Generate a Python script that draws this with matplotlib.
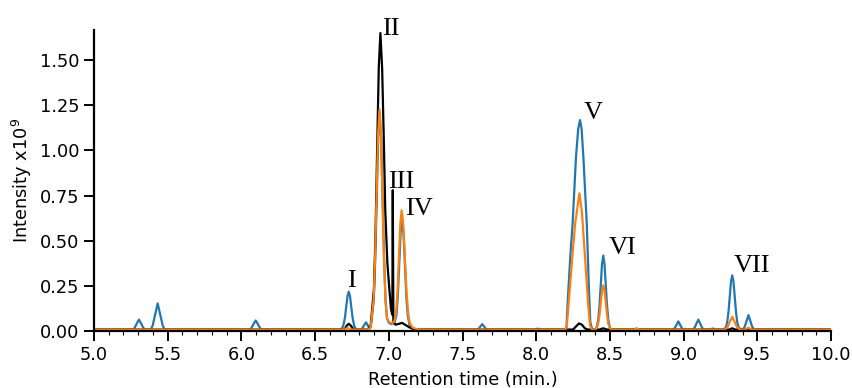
import matplotlib
matplotlib.use("Agg")
import matplotlib.pyplot as plt
from matplotlib.ticker import MultipleLocator, FormatStrFormatter

# chromatogram traces (time in min, intensity x1e9)
blue_time = [5.00,
             5.260, 5.275, 5.290, 5.305, 5.320, 5.335, 5.350,
             5.385, 5.398, 5.416, 5.432, 5.448, 5.466, 5.480,
             6.052, 6.067, 6.082, 6.097, 6.112, 6.127, 6.142,
             6.675, 6.690, 6.703, 6.711, 6.720, 6.728, 6.737, 6.745, 6.754, 6.766,
             6.780,
             6.810, 6.820, 6.833, 6.845, 6.857, 6.868,
             6.878, 6.898, 6.908, 6.918, 6.928, 6.938, 6.948, 6.958, 6.968, 6.978,
             6.988, 7.000, 7.020,
             7.040, 7.052, 7.061, 7.071, 7.080, 7.090, 7.100, 7.109, 7.119, 7.128,
             7.140, 7.160, 7.190,
             7.600, 7.612, 7.622, 7.634, 7.646, 7.656, 7.668,
             7.99, 8.01, 8.03,
             8.195, 8.205, 8.218, 8.232, 8.247, 8.270, 8.285, 8.297, 8.308, 8.320,
             8.343, 8.358, 8.367, 8.380,
             8.404, 8.4125, 8.421, 8.4295, 8.438, 8.4465, 8.455, 8.4635, 8.472,
             8.4805, 8.489, 8.4975, 8.506, 8.515,
             8.66, 8.68, 8.70,
             8.928, 8.940, 8.952, 8.964, 8.976, 8.988, 9.000,
             9.062, 9.075, 9.087, 9.100, 9.113, 9.125, 9.138,
             9.180, 9.197, 9.215,
             9.272, 9.2875, 9.296, 9.3045, 9.313, 9.3215, 9.330, 9.3385, 9.347,
             9.3555, 9.364, 9.3725, 9.390,
             9.400, 9.414, 9.427, 9.440, 9.453, 9.466, 9.480,
             10.00]
blue_int = [0.008,
            0.008, 0.016, 0.041, 0.063, 0.041, 0.016, 0.008,
            0.008, 0.030, 0.095, 0.153, 0.095, 0.030, 0.008,
            0.008, 0.015, 0.038, 0.058, 0.038, 0.015, 0.008,
            0.008, 0.025, 0.076, 0.135, 0.193, 0.218, 0.193, 0.135, 0.076, 0.025,
            0.008,
            0.008, 0.015, 0.032, 0.048, 0.032, 0.013,
            0.020, 0.170, 0.398, 0.736, 1.066, 1.208, 1.066, 0.736, 0.398, 0.170,
            0.070, 0.045, 0.038,
            0.050, 0.090, 0.190, 0.370, 0.540, 0.618, 0.540, 0.370, 0.190, 0.090,
            0.035, 0.012, 0.008,
            0.008, 0.014, 0.026, 0.038, 0.026, 0.014, 0.008,
            0.008, 0.013, 0.008,
            0.008, 0.020, 0.225, 0.420, 0.595, 0.965, 1.120, 1.168, 1.120, 0.965,
            0.595, 0.225, 0.050, 0.008,
            0.012, 0.026, 0.063, 0.141, 0.257, 0.370, 0.418, 0.370, 0.257,
            0.141, 0.063, 0.026, 0.012, 0.008,
            0.008, 0.014, 0.008,
            0.008, 0.016, 0.035, 0.053, 0.035, 0.016, 0.008,
            0.008, 0.018, 0.041, 0.063, 0.041, 0.018, 0.008,
            0.008, 0.014, 0.008,
            0.008, 0.021, 0.049, 0.105, 0.190, 0.273, 0.308, 0.273, 0.190,
            0.105, 0.049, 0.021, 0.008,
            0.008, 0.022, 0.055, 0.088, 0.055, 0.022, 0.008,
            0.008]

black_time = [5.00,
              6.700, 6.715, 6.728, 6.742, 6.760,
              6.860, 6.877, 6.899, 6.910, 6.921, 6.932, 6.943, 6.955, 6.965, 6.976,
              6.990, 7.003, 7.015, 7.024, 7.027, 7.031,
              7.045, 7.070, 7.090, 7.110, 7.140, 7.170, 7.200,
              8.250, 8.270, 8.290, 8.310, 8.330, 8.350,
              8.430, 8.455, 8.480,
              9.310, 9.330, 9.350,
              10.00]
black_int = [0.008,
             0.008, 0.030, 0.040, 0.030, 0.008,
             0.008, 0.030, 0.230, 0.540, 1.010, 1.460, 1.650, 1.450, 1.100, 0.670,
             0.380, 0.240, 0.120, 0.090, 0.780, 0.050,
             0.035, 0.040, 0.045, 0.035, 0.020, 0.010, 0.008,
             0.008, 0.025, 0.042, 0.035, 0.015, 0.008,
             0.008, 0.015, 0.008,
             0.008, 0.015, 0.008,
             0.008]

orange_time = [5.00,
               6.700, 6.720, 6.740,
               6.860, 6.877, 6.897, 6.907, 6.917, 6.927, 6.937, 6.947, 6.957,
               6.967, 6.977, 6.987, 7.000, 7.020,
               7.035, 7.045, 7.051, 7.060, 7.069, 7.078, 7.087, 7.098, 7.109,
               7.120, 7.131, 7.142, 7.160, 7.190, 7.230,
               8.195, 8.207, 8.218, 8.245, 8.265, 8.293, 8.310, 8.331, 8.354,
               8.365, 8.378,
               8.404, 8.4125, 8.421, 8.4295, 8.438, 8.4465, 8.455, 8.4635, 8.472,
               8.4805, 8.489, 8.4975, 8.506, 8.515,
               8.66, 8.68, 8.70,
               9.280, 9.298, 9.313, 9.330, 9.347, 9.362, 9.380,
               9.420, 9.440, 9.460,
               10.00]
orange_int = [0.008,
              0.008, 0.018, 0.008,
              0.008, 0.021, 0.173, 0.405, 0.749, 1.084, 1.228, 1.084, 0.749,
              0.405, 0.173, 0.075, 0.050, 0.043,
              0.050, 0.080, 0.120, 0.230, 0.410, 0.590, 0.668, 0.590, 0.410,
              0.220, 0.100, 0.045, 0.020, 0.010, 0.008,
              0.008, 0.020, 0.133, 0.410, 0.600, 0.762, 0.660, 0.410, 0.133,
              0.030, 0.008,
              0.010, 0.019, 0.041, 0.088, 0.157, 0.224, 0.253, 0.224, 0.157,
              0.088, 0.041, 0.019, 0.010, 0.008,
              0.008, 0.012, 0.008,
              0.008, 0.022, 0.050, 0.078, 0.050, 0.022, 0.008,
              0.008, 0.018, 0.008,
              0.008]

peak_labels = ["I", "II", "III", "IV", "V", "VI", "VII"]
label_x = [6.748, 7.015, 7.082, 7.203, 8.385, 8.583, 9.463]
label_y = [0.242, 1.639, 0.791, 0.641, 1.173, 0.429, 0.325]


fig = plt.figure(figsize=(8.52, 3.88), dpi=100)
ax = fig.add_axes([94 / 852, 1 - 331 / 388, 737 / 852, 301 / 388])

ax.plot(blue_time, blue_int, color="#1f77b4", lw=1.6)
ax.plot(black_time, black_int, color="black", lw=1.6)
ax.plot(orange_time, orange_int, color="#ff7f0e", lw=1.6)

for name, x, y in zip(peak_labels, label_x, label_y):
    ax.text(x, y, name, ha="center", va="baseline",
            family="Liberation Serif", fontsize=19)

ax.set_xlim(5, 10)
ax.set_ylim(0, 1.667)
ax.xaxis.set_major_locator(MultipleLocator(0.5))
ax.xaxis.set_minor_locator(MultipleLocator(0.1))
ax.xaxis.set_major_formatter(FormatStrFormatter("%.1f"))
ax.yaxis.set_major_locator(MultipleLocator(0.25))
ax.yaxis.set_major_formatter(FormatStrFormatter("%.2f"))

for side in ["top", "right"]:
    ax.spines[side].set_visible(False)
for side in ["left", "bottom"]:
    ax.spines[side].set_linewidth(1.6)

ax.tick_params(which="major", direction="out", length=7, width=1.4,
               labelsize=12.8)
ax.tick_params(which="minor", direction="out", length=3, width=0.8)

ax.set_xlabel("Retention time (min.)", fontsize=12.8, labelpad=5)
ax.set_ylabel("Intensity x10$^9$", fontsize=12.8, labelpad=4)

fig.savefig("out.png", dpi=100)
